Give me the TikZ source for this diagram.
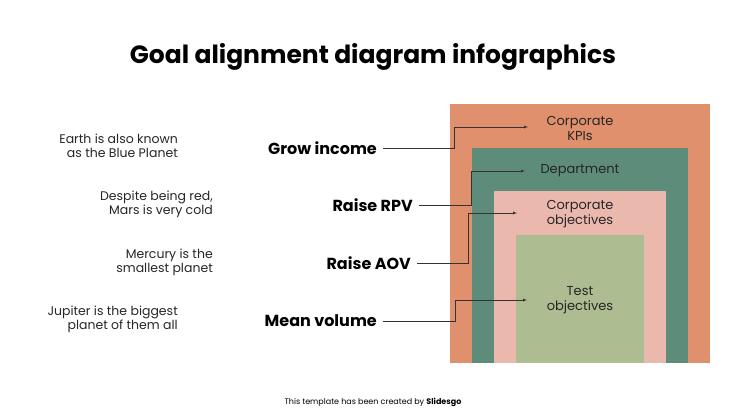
\documentclass[tikz,border=0pt]{standalone}
\usepackage{fontspec}
\setmainfont{Poppins}
\usetikzlibrary{arrows,positioning}
\definecolor{kpi}{HTML}{E0906C}
\definecolor{dept}{HTML}{5E8C7A}
\definecolor{corp}{HTML}{EBB8AE}
\definecolor{test}{HTML}{AEBC91}
\begin{document}
\begin{tikzpicture}
[x=1pt,y=-1pt,
layer_text/.style ={align=center, font=\fontsize{13}{15}\selectfont, text=black!85, inner sep=0},
goal/.style ={anchor=east, font=\fontsize{16}{18}\selectfont\bfseries, inner sep=0},
note/.style ={anchor=east, align=right, font=\fontsize{12.5}{14}\selectfont, text=black!85, inner sep=0},
line_inner/.style ={draw, black!80, thin, -latex}]

\useasboundingbox (0,0) rectangle (747,420);
\node[font=\fontsize{25}{28}\selectfont\bfseries] (title) at (373,57) {Goal alignment diagram infographics};

%%%Schichten%%%
\fill[kpi] (450,104) rectangle (710,363);
\fill[dept] (472,148) rectangle (688,363);
\fill[corp] (494,191) rectangle (666,363);
\fill[test] (516,235) rectangle (644,363);

\node[layer_text] (kpis) at (580,128) {Corporate\\KPIs};
\node[layer_text] (department) at (580,171) {Department};
\node[layer_text] (objectives) at (580,214) {Corporate\\objectives};
\node[layer_text] (tests) at (580,300) {Test\\objectives};

%%%Ziele%%%
\node[goal] (g1) at (377,148) {Grow income};
\node[goal] (g2) at (413,205) {Raise RPV};
\node[goal] (g3) at (411,263) {Raise AOV};
\node[goal] (g4) at (377,321) {Mean volume};

\node[note] (n1) at (178,146) {Earth is also known\\as the Blue Planet};
\node[note] (n2) at (213,204) {Despite being red,\\Mars is very cold};
\node[note] (n3) at (213,262) {Mercury is the\\smallest planet};
\node[note] (n4) at (178,319) {Jupiter is the biggest\\planet of them all};

%%Pfeile%%%
\draw[line_inner] ([xshift=6pt]g1.east) -| (454,127) -- (528,127);
\draw[line_inner] ([xshift=6pt]g2.east) -| (471,171) -- (525,171);
\draw[line_inner] ([xshift=6pt]g3.east) -| (468,213) -- (517,213);
\draw[line_inner] ([xshift=6pt]g4.east) -| (455,300) -- (527,300);

\node[font=\fontsize{8}{9}\selectfont] (footer) at (373,402) {This template has been created by \textbf{Slidesgo}};
\end{tikzpicture}
\end{document}
